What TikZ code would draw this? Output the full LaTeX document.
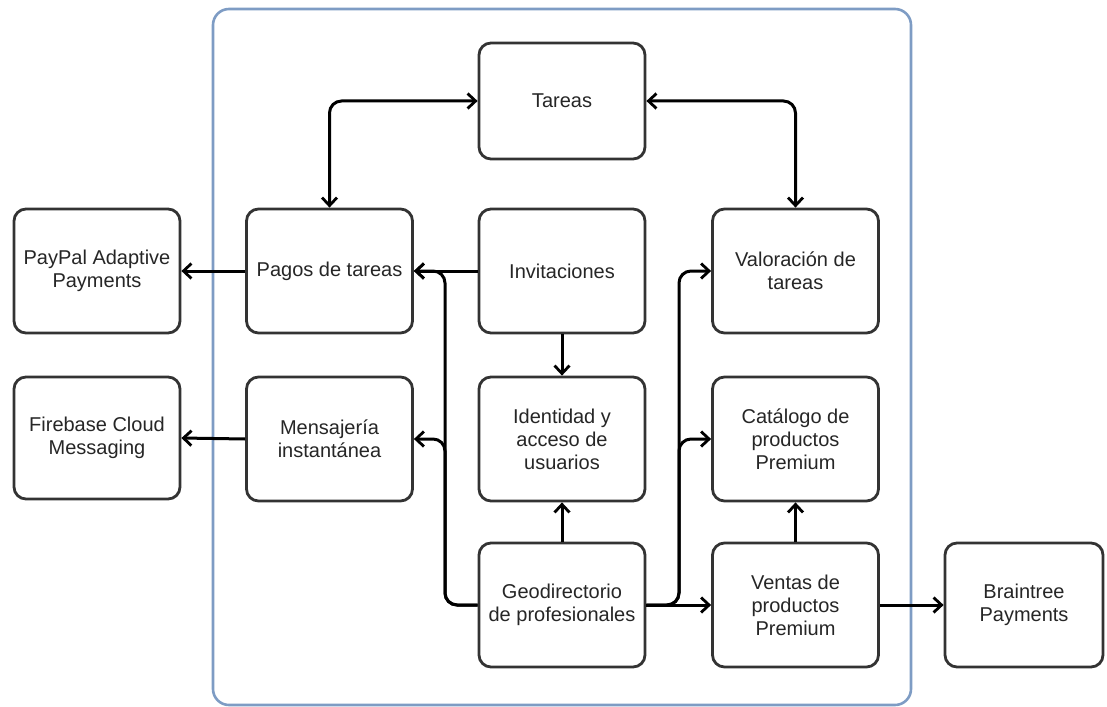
\documentclass[tikz,border=0pt]{standalone}
\usepackage{fontspec}
\setmainfont{Liberation Sans}
\usetikzlibrary{arrows.meta}
\definecolor{boxline}{HTML}{333333}
\definecolor{boxtext}{HTML}{262626}
\definecolor{frame}{HTML}{7E9CC4}
\begin{document}
\begin{tikzpicture}[x=1pt,y=-1pt,
  module/.style={draw=boxline, line width=2.8pt, rounded corners=12pt, fill=white,
    minimum width=166pt, minimum height=124pt, align=center, text=boxtext,
    font=\fontsize{20}{23}\selectfont, inner sep=2pt},
  tip/.tip={Straight Barb[length=8pt,width=15pt,line width=2.8pt]},
  link/.style={line width=3pt, black, rounded corners=12pt, -tip},
  both/.style={link, tip-tip}]
\useasboundingbox (0,0) rectangle (1107,706);
% system boundary
\draw[frame, line width=2.6pt, rounded corners=16pt] (213,9) rectangle (911,705);

% modules
\node[module, minimum height=116pt] (tareas) at (562,101) {Tareas};
\node[module] (paypal) at (97,271) {PayPal Adaptive\\Payments};
\node[module, minimum height=122pt] (firebase) at (97,438) {Firebase Cloud\\Messaging};
\node[module] (pagos) at (329.5,271) {Pagos de tareas};
\node[module] (invit) at (562,271) {Invitaciones};
\node[module] (valor) at (795.5,271) {Valoración de\\tareas};
\node[module] (mensa) at (329.5,439) {Mensajería\\instantánea};
\node[module] (ident) at (562,439) {Identidad y\\acceso de\\usuarios};
\node[module] (catal) at (795.5,439) {Catálogo de\\productos\\Premium};
\node[module] (geo) at (562,605) {Geodirectorio\\de profesionales};
\node[module] (ventas) at (795.5,605) {Ventas de\\productos\\Premium};
\node[module, minimum width=158pt] (brain) at (1024,605) {Braintree\\Payments};

% connectors
\draw[both] (pagos.north) |- (tareas.west);
\draw[both] (tareas.east) -| (valor.north);
\draw[link] (invit.west) -- (pagos.east);
\draw[link] (pagos.west) -- (paypal.east);
\draw[link] (mensa.west) -- (firebase.east);
\draw[link] (invit.south) -- (ident.north);
\draw[link] (geo.north) -- (ident.south);
\draw[link] (ventas.north) -- (catal.south);
\draw[link] (ventas.east) -- (brain.west);
\coordinate (gl) at (445,605);
\coordinate (gr) at (679,605);
\draw[link] (geo.west) -- (gl) |- (pagos.east);
\draw[link] (geo.west) -- (gl) |- (mensa.east);
\draw[link] (geo.east) -- (gr) |- (valor.west);
\draw[link] (geo.east) -- (gr) |- (catal.west);
\draw[link] (geo.east) -- (ventas.west);
\end{tikzpicture}
\end{document}
